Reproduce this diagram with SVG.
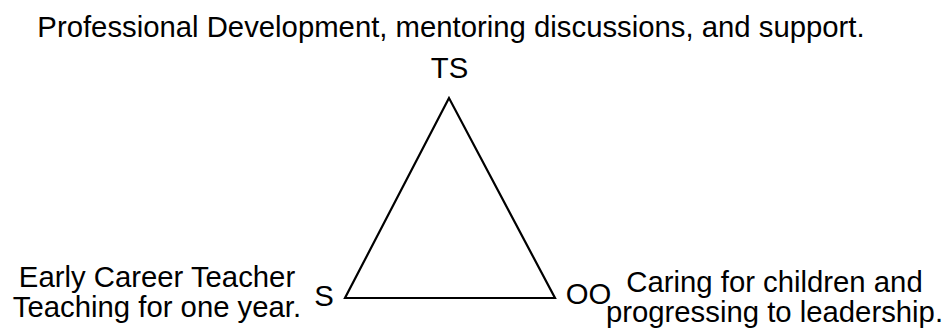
<svg xmlns="http://www.w3.org/2000/svg" width="944" height="334" viewBox="0 0 944 334">
<style>
text{font-family:"Liberation Sans",Arial,sans-serif;font-size:29.3px;fill:#000}
.m{text-anchor:middle}
.edge{fill:none;stroke:#000;stroke-width:2.2;stroke-linejoin:miter}
</style>
<rect width="944" height="334" fill="#fff"/>
<g id="title"><text class="m" x="451" y="37">Professional Development, mentoring discussions, and support.</text></g>
<g id="connectors">
<path class="edge" d="M449,98 L345,298 L555,298 Z"/>
</g>
<g id="node-TS"><text class="m" x="449.5" y="78">TS</text></g>
<g id="node-S"><text class="m" x="324" y="306">S</text></g>
<g id="node-OO"><text class="m" x="588.5" y="304">OO</text></g>
<g id="label-S"><text class="m" x="157" y="287">Early Career Teacher</text><text class="m" x="157" y="317">Teaching for one year.</text></g>
<g id="label-OO"><text class="m" x="774.5" y="292">Caring for children and</text><text class="m" x="774.5" y="322">progressing to leadership.</text></g>
</svg>
